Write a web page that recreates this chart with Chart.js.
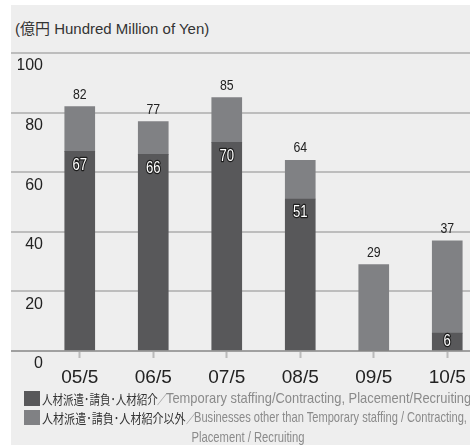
<!DOCTYPE html>
<html>
<head>
<meta charset="utf-8">
<script src="https://cdn.jsdelivr.net/npm/chart.js@4"></script>
<style>
    body { margin: 0; background: #fff; }
    #panel { position: absolute; left: 11px; top: 5px; width: 459px; height: 440px; background: #eeeeee; overflow: hidden; }
    #title { position: absolute; left: 4px; top: 12px; font: 15px 'Liberation Sans', 'Noto Sans CJK JP', sans-serif; color: #333; white-space: nowrap; }
    #chart { position: absolute; left: 0; top: 0; }
    .box { position: absolute; left: 13px; width: 16px; height: 15px; }
    .piece { position: absolute; height: 19px; line-height: 19px; white-space: nowrap; transform-origin: 0 50%; }
    .ja { font: 13px 'Noto Sans CJK JP', sans-serif; color: #333; }
    .sl { font: 13px 'Noto Sans CJK JP', sans-serif; color: #999; }
    .en { font: 15px 'Liberation Sans', sans-serif; color: #8a8a8a; }
</style>
</head>
<body>
<div id="panel">
    <div id="title">(億円 Hundred Million of Yen)</div>
    <canvas id="chart" width="473" height="386"></canvas>
    <div id="legend"></div>
</div>
<script>
// Fiscal periods (year/month)
const periods = ['05/5', '06/5', '07/5', '08/5', '09/5', '10/5'];

// Temporary staffing / contracting / placement (dark)
const staffing = [67, 66, 70, 51, 0, 6];
// Other businesses (light)
const otherBiz = [15, 11, 15, 13, 29, 31];

const seriesJa = ['人材派遣･請負･人材紹介', '人材派遣･請負･人材紹介以外'];
const seriesEn = [
    'Temporary staffing/Contracting, Placement/Recruiting',
    'Businesses other than Temporary staffing / Contracting,\nPlacement / Recruiting'
];
const colors = ['#58585a', '#808184'];

const yMax = 100;
const yStep = 20;

// condensed text helper (narrow look of the original labels)
function narrowText(ctx, text, x, y, stroke) {
    ctx.save();
    ctx.translate(x, y);
    ctx.scale(0.82, 1);
    if (stroke) ctx.strokeText(text, 0, 0);
    ctx.fillText(text, 0, 0);
    ctx.restore();
}

// Draw value labels: staffing inside the dark bar, total on top
const valueLabels = {
    id: 'valueLabels',
    afterDatasetsDraw(chart) {
        const ctx = chart.ctx;
        const dark = chart.getDatasetMeta(0).data;
        const light = chart.getDatasetMeta(1).data;
        ctx.save();
        ctx.textAlign = 'center';
        ctx.textBaseline = 'middle';

        dark.forEach((bar, i) => {
            if (!staffing[i]) return;
            const y = Math.min(bar.y + 14, (bar.y + bar.base) / 2);
            ctx.font = '16px "Liberation Sans", sans-serif';
            ctx.lineJoin = 'round';
            ctx.lineWidth = 2.5;
            ctx.strokeStyle = '#1c1c1c';
            ctx.fillStyle = '#fff';
            narrowText(ctx, staffing[i], bar.x, y, true);
        });

        light.forEach((bar, i) => {
            const total = staffing[i] + otherBiz[i];
            ctx.font = '15px "Liberation Sans", sans-serif';
            ctx.fillStyle = '#222';
            narrowText(ctx, total, bar.x, bar.y - 12, false);
        });
        ctx.restore();
    }
};

const chart = new Chart(document.getElementById('chart').getContext('2d'), {
    type: 'bar',
    data: {
        labels: periods,
        datasets: [
            { label: seriesJa[0], data: staffing, backgroundColor: colors[0], barThickness: 30 },
            { label: seriesJa[1], data: otherBiz, backgroundColor: colors[1], barThickness: 30 }
        ]
    },
    options: {
        responsive: false,
        animation: false,
        layout: { padding: { left: 7, top: 48, right: 0, bottom: 0 } },
        plugins: {
            legend: { display: false },
            tooltip: { enabled: false }
        },
        scales: {
            x: {
                stacked: true,
                offset: true,
                border: { display: false },
                grid: {
                    offset: false,
                    drawOnChartArea: false,
                    drawTicks: true,
                    tickLength: 7,
                    tickWidth: 2,
                    tickColor: '#bbbbbb'
                },
                ticks: {
                    color: '#222',
                    font: { family: 'Liberation Sans', size: 19 },
                    padding: 8,
                    maxRotation: 0,
                    autoSkip: false
                },
                afterFit(scale) { scale.height = 40; }
            },
            y: {
                stacked: true,
                min: 0,
                max: yMax,
                border: { display: false },
                grid: {
                    lineWidth: 2,
                    tickLength: 32,
                    color: (c) => c.tick && c.tick.value === 0 ? '#a0a0a0' : '#bdbdbd',
                    tickColor: (c) => c.tick && c.tick.value === 0 ? '#a0a0a0' : '#bdbdbd'
                },
                ticks: {
                    stepSize: yStep,
                    color: '#222',
                    font: { family: 'Liberation Sans', size: 16 },
                    crossAlign: 'near',
                    padding: -32,
                    labelOffset: 13
                },
                afterFit(scale) { scale.width = 25; }
            }
        }
    },
    plugins: [valueLabels]
});

// HTML legend built from the datasets; text is squeezed like the original
const legendPlace = [
    { top: 384, jaScale: 0.81, slashX: 146, enX: 155, enScale: 0.86 },
    { top: 403, jaScale: 0.85, slashX: 175, enX: 183, enScale: 0.74 }
];
const legendEl = document.getElementById('legend');

function addPiece(cls, text, left, top, scale) {
    const el = document.createElement('div');
    el.className = 'piece ' + cls;
    el.style.left = left + 'px';
    el.style.top = top + 'px';
    el.style.transform = `scaleX(${scale})`;
    el.textContent = text;
    legendEl.appendChild(el);
    return el;
}

chart.data.datasets.forEach((ds, i) => {
    const p = legendPlace[i];
    const lines = seriesEn[i].split('\n');
    const box = document.createElement('div');
    box.className = 'box';
    box.style.top = (p.top + 2) + 'px';
    box.style.background = ds.backgroundColor;
    legendEl.appendChild(box);

    addPiece('ja', seriesJa[i], 31, p.top, p.jaScale);
    addPiece('sl', '／', p.slashX, p.top, 0.8);
    addPiece('en', lines[0], p.enX, p.top, p.enScale);

    // wrapped remainder, centred under the legend
    lines.slice(1).forEach((t, k) => {
        const el = addPiece('en', t, 0, p.top + 20 * (k + 1), 0.75);
        el.style.width = '474px';
        el.style.textAlign = 'center';
        el.style.transformOrigin = '237px 50%';
    });
});
</script>
</body>
</html>
